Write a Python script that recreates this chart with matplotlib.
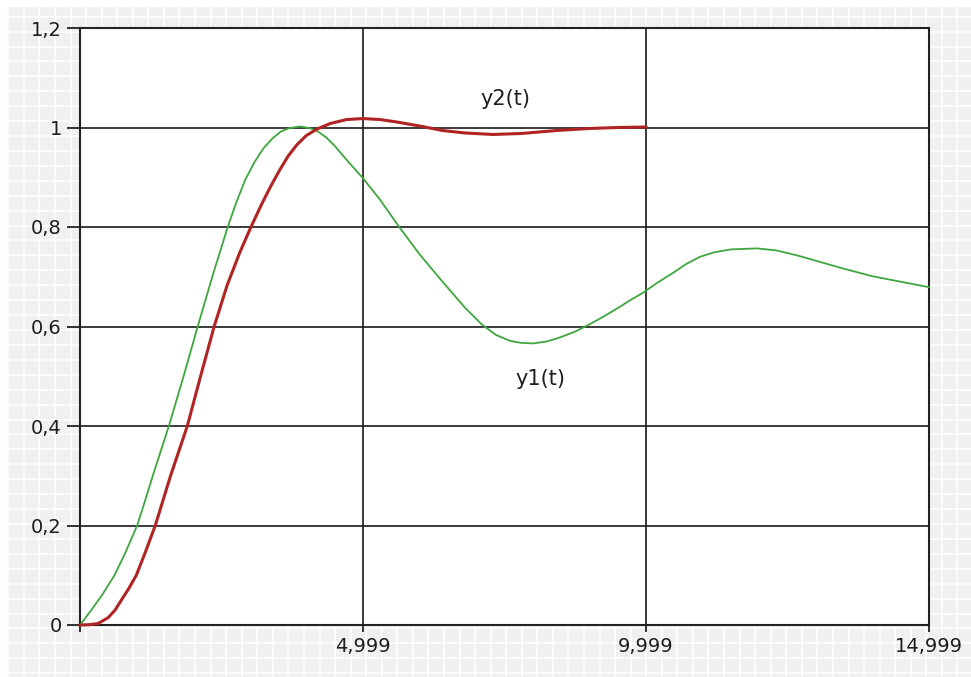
import matplotlib.pyplot as plt
from matplotlib.patches import Rectangle
import numpy as np

# Values
t1 = [0, 0.2, 0.4, 0.61, 0.8, 1.01, 1.15, 1.3, 1.57, 1.83, 2.08, 2.35, 2.61,
      2.77, 2.92, 3.08, 3.24, 3.4, 3.55, 3.7, 3.89, 4.05, 4.19, 4.35, 4.5,
      4.71, 5.0, 5.3, 5.64, 6.0, 6.42, 6.8, 7.1, 7.35, 7.6, 7.8, 8.01, 8.25,
      8.48, 8.75, 8.98, 9.25, 9.5, 9.75, 9.95, 10.2, 10.48, 10.7, 10.95, 11.2,
      11.5, 11.96, 12.3, 12.7, 13.13, 13.5, 14.0, 14.5, 14.999]
y1 = [0, 0.03, 0.062, 0.1, 0.145, 0.2, 0.25, 0.305, 0.4, 0.5, 0.6, 0.705, 0.8,
      0.852, 0.895, 0.93, 0.958, 0.978, 0.992, 0.999, 1.002, 0.999, 0.993,
      0.98, 0.963, 0.935, 0.898, 0.855, 0.8, 0.745, 0.688, 0.638, 0.604, 0.583,
      0.571, 0.567, 0.566, 0.57, 0.578, 0.59, 0.603, 0.62, 0.637, 0.655, 0.668,
      0.688, 0.708, 0.725, 0.74, 0.749, 0.755, 0.757, 0.753, 0.742, 0.728,
      0.716, 0.701, 0.69, 0.679]

t2 = [0, 0.15, 0.32, 0.5, 0.62, 0.73, 0.86, 0.995, 1.15, 1.33, 1.6, 1.896,
      2.13, 2.37, 2.6, 2.82, 3.02, 3.21, 3.37, 3.53, 3.68, 3.83, 4.0, 4.19,
      4.42, 4.71, 5.0, 5.3, 5.6, 6.0, 6.4, 6.8, 7.3, 7.8, 8.42, 9.0, 9.5, 9.999]
y2 = [0, 0.0005, 0.003, 0.015, 0.03, 0.05, 0.073, 0.1, 0.145, 0.2, 0.3, 0.4,
      0.5, 0.6, 0.683, 0.748, 0.8, 0.846, 0.882, 0.915, 0.943, 0.965, 0.984,
      0.997, 1.008, 1.016, 1.018, 1.016, 1.011, 1.003, 0.994, 0.989, 0.986,
      0.988, 0.994, 0.998, 1.0, 1.001]

yticks = [0, 0.2, 0.4, 0.6, 0.8, 1.0, 1.2]
ytick_labels = ["0", "0,2", "0,4", "0,6", "0,8", "1", "1,2"]
xticks = [0, 4.999, 9.999, 14.999]
xtick_labels = ["", "4,999", "9,999", "14,999"]

W, H = 971, 677
fig = plt.figure(figsize=(W / 100, H / 100), dpi=100)
fig.patch.set_facecolor("white")

# checkered background
bg = fig.add_axes([0, 0, 1, 1], zorder=-1)
bg.set_xlim(0, W)
bg.set_ylim(H, 0)
bg.axis("off")
bg.add_patch(Rectangle((7, 7), W, H, color="#f0f0f0", lw=0))
for gx in np.arange(8.3, W, 15.56):
    bg.axvline(gx, ymin=0, ymax=1 - 7 / H, color="white", lw=1.1)
for gy in np.arange(16.7, H, 14.92):
    bg.axhline(gy, xmin=7 / W, xmax=1, color="white", lw=1.1)

ax = fig.add_axes([80 / W, 52 / H, 849 / W, 597 / H])
ax.set_facecolor("white")
ax.plot(t1, y1, color="#3fa63f", lw=1.3, zorder=3, clip_on=False)
ax.plot(t2, y2, color="#b02424", lw=2.2, zorder=4, clip_on=False)

ax.set_xlim(0, 14.999)
ax.set_ylim(0, 1.2)
ax.set_yticks(yticks)
ax.set_yticklabels(ytick_labels)
ax.set_xticks(xticks)
ax.set_xticklabels(xtick_labels)
ax.tick_params(axis="y", length=9.4, width=1.3, color="#222222", pad=3.6,
               labelsize=14, labelcolor="#1e1e1e")
ax.tick_params(axis="x", length=5, width=1.3, color="#222222", pad=3.6,
               labelsize=14, labelcolor="#1e1e1e")
ax.grid(True, color="#1a1a1a", lw=1.2)
for s in ax.spines.values():
    s.set_color("#222222")
    s.set_linewidth(1.5)

ax.text(7.51, 1.057, "y2(t)", fontsize=15, color="#1e1e1e", ha="center", va="center")
ax.text(8.13, 0.494, "y1(t)", fontsize=15, color="#1e1e1e", ha="center", va="center")

fig.savefig("out.png", dpi=100)
